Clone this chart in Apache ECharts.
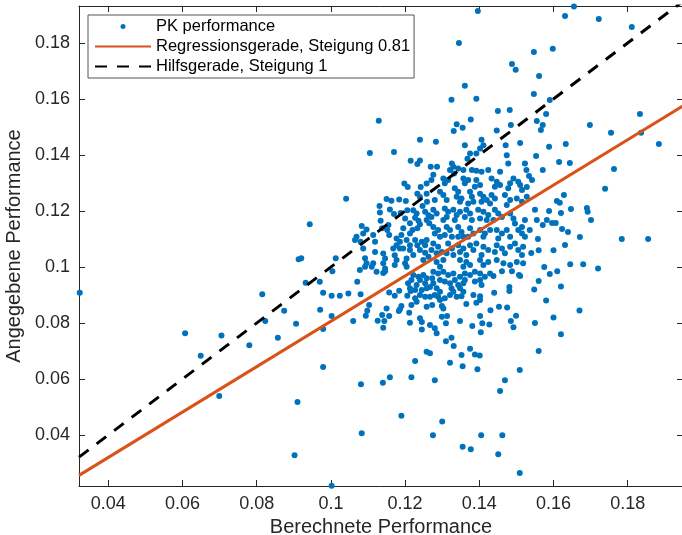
<!DOCTYPE html>
<html>
<head>
<meta charset="utf-8">
<title>PK performance</title>
<script src="https://cdn.jsdelivr.net/npm/echarts@6.0.0/dist/echarts.min.js"></script>
<style>
  html, body { margin: 0; padding: 0; background: #fff; }
  #chart { width: 682px; height: 535px; }
</style>
</head>
<body>
<div id="chart"></div>
<script>
// tick values shown on the axes
const xTicks = [0.04, 0.06, 0.08, 0.1, 0.12, 0.14, 0.16, 0.18];
const yTicks = [0.04, 0.06, 0.08, 0.1, 0.12, 0.14, 0.16, 0.18];
const xRange = [0.0321, 0.1949];
const yRange = [0.0218, 0.1932];

// [berechnet, angegeben]
const pkPerformance = [
  [0.0323,0.0908],[0.0607,0.0763],[0.0649,0.0683],[0.0699,0.0539],[0.0705,0.0755],[0.0780,0.0721],
  [0.0815,0.0903],[0.0823,0.0807],[0.0857,0.0747],[0.0874,0.0844],[0.0906,0.0797],[0.0910,0.0518],
  [0.0902,0.0328],[0.0913,0.1028],[0.0920,0.1031],[0.0932,0.0944],[0.0970,0.0947],[0.0979,0.0908],
  [0.0971,0.0847],[0.0979,0.0779],[0.0979,0.0643],[0.1002,0.0219],[0.1509,0.0264],
  [0.1227,0.0664],[0.1321,0.0658],[0.1355,0.0646],[0.1395,0.0635],[0.1509,0.0632],[0.1081,0.0581],
  [0.1140,0.0587],[0.1159,0.0606],[0.1217,0.0606],[0.1280,0.0596],[0.1469,0.0596],[0.1456,0.0557],
  [0.1190,0.0469],[0.1300,0.0448],[0.1083,0.0406],[0.1275,0.0399],[0.1405,0.0399],[0.1462,0.0399],
  [0.1355,0.0358],[0.1377,0.0349],[0.1451,0.0331],
  [0.1375,0.0708],[0.1352,0.0686],[0.1388,0.0688],[0.1401,0.0684],[0.1331,0.0718],[0.1325,0.0747],
  [0.1310,0.0735],[0.1267,0.0692],[0.1381,0.0789],[0.1404,0.0767],[0.1408,0.0799],[0.1427,0.0795],
  [0.1402,0.0825],[0.1348,0.0807],[0.1310,0.0799],[0.1299,0.0822],[0.1313,0.0825],[0.1280,0.0781],
  [0.1285,0.0763],[0.1267,0.0793],[0.1430,0.0846],[0.1453,0.0858],[0.1475,0.0855],[0.1499,0.0826],
  [0.1485,0.0807],[0.1492,0.0785],[0.1365,0.0868],[0.1392,0.0872],[0.1402,0.0882],[0.1384,0.0900],
  [0.1402,0.0896],[0.1440,0.0908],[0.1481,0.0929],[0.1481,0.0914],[0.1507,0.0971],[0.1299,0.0861],
  [0.1303,0.0852],[0.1273,0.0864],[0.1294,0.0882],[0.1307,0.0888],[0.1321,0.0900],[0.1330,0.0912],
  [0.1339,0.0894],[0.1352,0.0896],[0.1357,0.0912],[0.1285,0.0924],[0.1294,0.0912],[0.1280,0.0900],
  [0.1289,0.0894],[0.1267,0.0894],[0.1276,0.0983],[0.1289,0.0977],[0.1303,0.0983],[0.1316,0.0971],
  [0.1330,0.0977],[0.1348,0.0965],[0.1361,0.0977],[0.1375,0.0971],[0.1388,0.0983],[0.1402,0.0977],
  [0.1415,0.0965],[0.1429,0.0977],[0.1438,0.0968],[0.1461,0.0985],[0.1488,0.0985],[0.1510,0.0968],
  [0.1294,0.0954],[0.1307,0.0948],[0.1321,0.0942],[0.1334,0.0954],[0.1343,0.0936],[0.1357,0.0942],
  [0.1348,0.0924],[0.1325,0.0924],[0.1361,0.0954],[0.1388,0.0948],[0.1402,0.0954],[0.1406,0.0936],
  [0.1273,0.0960],[0.1276,0.0942],[0.1267,0.0929],
  [0.1004,0.0985],[0.1078,0.0989],[0.1123,0.0983],[0.1141,0.0979],[0.1146,0.0985],[0.1071,0.0947],
  [0.1002,0.0897],[0.1024,0.0897],[0.1047,0.0905],[0.1080,0.0903],[0.1157,0.0909],[0.1172,0.0897],
  [0.1184,0.0915],[0.1206,0.0897],[0.1215,0.0914],[0.1103,0.0864],[0.1098,0.0844],[0.1094,0.0826],
  [0.1060,0.0807],[0.1002,0.0825],[0.1126,0.0808],[0.1138,0.0829],[0.1150,0.0852],[0.1157,0.0825],
  [0.1144,0.0807],[0.1141,0.0783],[0.1186,0.0849],[0.1190,0.0861],[0.1183,0.0843],[0.1211,0.0837],
  [0.1213,0.0801],[0.1240,0.0817],[0.1245,0.0804],[0.1245,0.0777],[0.1217,0.0864],[0.1231,0.0876],
  [0.1227,0.0888],[0.1240,0.0900],[0.1254,0.0894],[0.1258,0.0858],[0.1208,0.0942],[0.1217,0.0954],
  [0.1231,0.0936],[0.1240,0.0954],[0.1254,0.0942],[0.1258,0.0924],[0.1245,0.0918],[0.1227,0.0918],
  [0.1222,0.0971],[0.1236,0.0965],[0.1249,0.0971],[0.1258,0.0960],[0.1213,0.0924],[0.1258,0.0697],
  [0.1240,0.1454],[0.1105,0.1407],[0.1170,0.1411],[0.1215,0.1379],[0.1233,0.1368],[0.1240,0.1380],
  [0.1269,0.1358],[0.1198,0.1298],[0.1207,0.1286],[0.1242,0.1286],[0.1258,0.1298],[0.1233,0.1262],
  [0.1240,0.1250],[0.1258,0.1262],[0.1259,0.1233],[0.1150,0.1243],[0.1163,0.1237],[0.1184,0.1241],
  [0.1202,0.1236],[0.1247,0.1218],[0.1041,0.1244],[0.1131,0.1218],[0.1132,0.1195],[0.1134,0.1165],
  [0.1159,0.1205],[0.1170,0.1189],[0.1188,0.1193],[0.1200,0.1173],[0.1206,0.1203],[0.1222,0.1203],
  [0.1231,0.1191],[0.1227,0.1176],[0.1236,0.1165],[0.1240,0.1153],[0.1233,0.1138],[0.1254,0.1197],
  [0.1263,0.1185],[0.1258,0.1168],[0.1265,0.1156],[0.1213,0.1156],[0.1220,0.1132],[0.1213,0.1120],
  [0.1195,0.1138],[0.1190,0.1114],[0.1155,0.1150],[0.1152,0.1132],[0.1157,0.1114],[0.1138,0.1138],
  [0.1083,0.1146],[0.1096,0.1134],[0.1087,0.1120],[0.1069,0.1108],[0.1065,0.1096],[0.1080,0.1090],
  [0.1114,0.1114],[0.1119,0.1090],[0.1177,0.1102],[0.1186,0.1090],[0.1177,0.1078],[0.1186,0.1066],
  [0.1204,0.1096],[0.1213,0.1078],[0.1227,0.1096],[0.1233,0.1078],[0.1245,0.1090],[0.1254,0.1078],
  [0.1258,0.1096],[0.1087,0.1066],[0.1119,0.1054],[0.1141,0.1048],[0.1146,0.1030],[0.1168,0.1066],
  [0.1172,0.1042],[0.1177,0.1025],[0.1195,0.1066],[0.1213,0.1061],[0.1222,0.1043],[0.1204,0.1030],
  [0.1240,0.1061],[0.1254,0.1051],[0.1263,0.1037],[0.1249,0.1025],[0.1013,0.1031],[0.1092,0.1031],
  [0.1096,0.1013],[0.1092,0.1001],[0.1114,0.1013],[0.1110,0.1001],[0.1141,0.1013],[0.1146,0.0995],
  [0.1172,0.1007],[0.1200,0.1013],[0.1204,0.1001],
  [0.1361,0.1647],[0.1325,0.1597],[0.1392,0.1601],[0.1129,0.1522],[0.1377,0.1527],[0.1339,0.1510],
  [0.1355,0.1497],[0.1331,0.1486],[0.0943,0.1153],[0.1447,0.1487],[0.1345,0.1800],
  [0.1396,0.1914],[0.1655,0.1930],[0.1631,0.1896],[0.1722,0.1886],[0.1811,0.1857],[0.1547,0.1768],
  [0.1598,0.1779],[0.1488,0.1725],[0.1498,0.1704],[0.1561,0.1682],[0.1547,0.1618],[0.1590,0.1596],
  [0.1450,0.1557],[0.1482,0.1561],[0.1580,0.1546],[0.1555,0.1521],[0.1571,0.1507],[0.1485,0.1507],
  [0.1566,0.1489],[0.1588,0.1429],[0.1633,0.1439],[0.1833,0.1546],[0.1698,0.1507],[0.1755,0.1479],
  [0.1836,0.1479],[0.1884,0.1439],[0.1553,0.1396],[0.1615,0.1375],[0.1644,0.1371],[0.1571,0.1346],
  [0.1763,0.1350],[0.1542,0.1311],[0.1534,0.1325],[0.1739,0.1279],[0.1628,0.1257],[0.1609,0.1236],
  [0.1617,0.1229],[0.1588,0.1200],[0.1620,0.1193],[0.1647,0.1207],[0.1690,0.1211],[0.1692,0.1197],
  [0.1701,0.1168],[0.1623,0.1136],[0.1639,0.1125],[0.1671,0.1107],[0.1631,0.1079],[0.1558,0.1100],
  [0.1784,0.1100],[0.1855,0.1100],[0.1582,0.1168],[0.1596,0.1157],[0.1606,0.1157],[0.1571,0.1150],
  [0.1555,0.1168],[0.1536,0.1132],[0.1550,0.1204],
  [0.1283,0.1447],[0.1361,0.1435],[0.1406,0.1454],[0.1411,0.1435],[0.1402,0.1423],[0.1392,0.1405],
  [0.1471,0.1435],[0.1510,0.1443],[0.1474,0.1399],[0.1375,0.1405],[0.1368,0.1387],[0.1286,0.1358],
  [0.1326,0.1370],[0.1330,0.1358],[0.1321,0.1346],[0.1332,0.1334],[0.1343,0.1352],[0.1357,0.1346],
  [0.1380,0.1346],[0.1392,0.1344],[0.1406,0.1340],[0.1424,0.1346],[0.1456,0.1340],[0.1478,0.1370],
  [0.1523,0.1370],[0.1527,0.1346],[0.1492,0.1316],[0.1505,0.1304],[0.1276,0.1329],[0.1271,0.1311],
  [0.1303,0.1316],[0.1316,0.1311],[0.1307,0.1299],[0.1357,0.1316],[0.1370,0.1311],[0.1361,0.1299],
  [0.1392,0.1311],[0.1402,0.1293],[0.1388,0.1287],[0.1433,0.1316],[0.1447,0.1304],[0.1442,0.1287],
  [0.1456,0.1293],[0.1483,0.1299],[0.1478,0.1281],[0.1510,0.1293],[0.1515,0.1275],[0.1528,0.1286],
  [0.1280,0.1239],[0.1294,0.1269],[0.1303,0.1257],[0.1312,0.1239],[0.1334,0.1281],[0.1343,0.1269],
  [0.1339,0.1251],[0.1352,0.1245],[0.1348,0.1233],[0.1375,0.1269],[0.1380,0.1251],[0.1384,0.1233],
  [0.1370,0.1227],[0.1402,0.1262],[0.1411,0.1251],[0.1406,0.1233],[0.1420,0.1239],[0.1433,0.1257],
  [0.1442,0.1245],[0.1429,0.1227],[0.1469,0.1257],[0.1483,0.1239],[0.1474,0.1221],[0.1501,0.1245],
  [0.1515,0.1233],[0.1528,0.1251],[0.1276,0.1204],[0.1285,0.1191],[0.1271,0.1179],[0.1307,0.1209],
  [0.1316,0.1197],[0.1312,0.1179],[0.1303,0.1168],[0.1330,0.1204],[0.1339,0.1186],[0.1348,0.1197],
  [0.1334,0.1168],[0.1365,0.1204],[0.1375,0.1191],[0.1361,0.1179],[0.1380,0.1168],[0.1397,0.1204],
  [0.1411,0.1197],[0.1424,0.1186],[0.1402,0.1173],[0.1420,0.1168],[0.1442,0.1204],[0.1451,0.1191],
  [0.1461,0.1179],[0.1438,0.1168],[0.1483,0.1191],[0.1492,0.1173],[0.1496,0.1155],[0.1515,0.1143],
  [0.1523,0.1168],[0.1276,0.1143],[0.1289,0.1132],[0.1280,0.1120],[0.1294,0.1108],[0.1312,0.1143],
  [0.1321,0.1132],[0.1307,0.1114],[0.1326,0.1108],[0.1343,0.1143],[0.1352,0.1125],[0.1343,0.1108],
  [0.1357,0.1108],[0.1375,0.1138],[0.1384,0.1120],[0.1370,0.1108],[0.1402,0.1132],[0.1415,0.1120],
  [0.1411,0.1108],[0.1429,0.1132],[0.1447,0.1132],[0.1461,0.1120],[0.1451,0.1102],[0.1474,0.1132],
  [0.1483,0.1108],[0.1505,0.1132],[0.1515,0.1120],[0.1523,0.1108],[0.1276,0.1084],[0.1289,0.1072],
  [0.1271,0.1061],[0.1285,0.1049],[0.1299,0.1054],[0.1316,0.1084],[0.1326,0.1066],[0.1312,0.1049],
  [0.1330,0.1043],[0.1343,0.1078],[0.1357,0.1066],[0.1348,0.1054],[0.1375,0.1078],[0.1392,0.1084],
  [0.1384,0.1061],[0.1365,0.1043],[0.1411,0.1072],[0.1424,0.1061],[0.1406,0.1043],[0.1447,0.1078],
  [0.1461,0.1066],[0.1442,0.1054],[0.1469,0.1049],[0.1483,0.1072],[0.1496,0.1084],[0.1505,0.1061],
  [0.1518,0.1072],[0.1515,0.1043],[0.1285,0.1018],[0.1303,0.1025],[0.1294,0.1001],[0.1348,0.1025],
  [0.1365,0.1018],[0.1357,0.1001],[0.1375,0.1007],[0.1402,0.1025],[0.1411,0.1007],[0.1424,0.1018],
  [0.1447,0.1025],[0.1465,0.1013],[0.1483,0.1007],[0.1501,0.1018],[0.1518,0.1013],
  [0.1575,0.1000],[0.1590,0.0975],[0.1560,0.0950],[0.1610,0.0985],[0.1620,0.0930],[0.1548,0.0920],
  [0.1580,0.0880],[0.1645,0.1010],[0.1680,0.1010],[0.1720,0.0995],[0.1670,0.0845],[0.1600,0.0820],
  [0.1550,0.0800],[0.1620,0.0760],[0.1560,0.0700],[0.1540,0.1050],[0.1600,0.1060],[0.1560,0.1060]
];

// fitted line (slope 0.81) and the slope-1 helper line, end points
const regressionLine = [[0.0321, 0.0256], [0.1949, 0.1575]];
const referenceLine = [[0.0321, 0.0321], [0.1949, 0.1949]];

const font = '"Liberation Sans", Arial, Helvetica, sans-serif';
const axisColor = '#262626';

function xAxisDef(position, withLabels) {
  return {
    type: 'value',
    position: position,
    min: xRange[0],
    max: xRange[1],
    name: withLabels ? 'Berechnete Performance' : '',
    nameLocation: 'middle',
    nameGap: 27,
    nameTextStyle: { fontFamily: font, fontSize: 20, color: axisColor },
    axisLine: { show: true, onZero: false, lineStyle: { color: axisColor, width: 1 } },
    axisTick: { show: true, inside: true, length: 6, customValues: xTicks, lineStyle: { color: axisColor } },
    axisLabel: { show: withLabels, customValues: xTicks, margin: 9, fontFamily: font, fontSize: 18, color: axisColor },
    splitLine: { show: false }
  };
}

function yAxisDef(position, withLabels) {
  return {
    type: 'value',
    position: position,
    min: yRange[0],
    max: yRange[1],
    name: withLabels ? 'Angegebene Performance' : '',
    nameLocation: 'middle',
    nameRotate: 90,
    nameGap: 54,
    nameTextStyle: { fontFamily: font, fontSize: 20, color: axisColor },
    axisLine: { show: true, onZero: false, lineStyle: { color: axisColor, width: 1 } },
    axisTick: { show: true, inside: true, length: 6, customValues: yTicks, lineStyle: { color: axisColor } },
    axisLabel: { show: withLabels, customValues: yTicks, margin: 9, fontFamily: font, fontSize: 18, color: axisColor },
    splitLine: { show: false }
  };
}

const chart = echarts.init(document.getElementById('chart'), null, { renderer: 'canvas' });
chart.setOption({
  animation: false,
  backgroundColor: '#fff',
  grid: { left: 79, top: 6, width: 604, height: 480, outerBoundsMode: 'none', containLabel: false },
  xAxis: [xAxisDef('bottom', true), xAxisDef('top', false)],
  yAxis: [yAxisDef('left', true), yAxisDef('right', false)],
  legend: {
    orient: 'vertical',
    left: 88,
    top: 15,
    padding: [3, 4, 3, 6],
    itemGap: 3,
    itemWidth: 56,
    itemHeight: 5,
    selectedMode: false,
    backgroundColor: '#fff',
    borderColor: '#555',
    borderWidth: 1,
    textStyle: { fontFamily: font, fontSize: 16.5, color: '#000' },
    data: [
      { name: 'PK performance' },
      // line entries: hide the marker that ECharts adds to line icons
      { name: 'Regressionsgerade, Steigung 0.81', itemStyle: { opacity: 0 } },
      { name: 'Hilfsgerade, Steigung 1', itemStyle: { opacity: 0 } }
    ]
  },
  series: [
    {
      name: 'PK performance',
      type: 'scatter',
      data: pkPerformance,
      symbol: 'circle',
      symbolSize: 6,
      itemStyle: { color: '#0072BD', opacity: 1 },
      z: 2
    },
    {
      name: 'Regressionsgerade, Steigung 0.81',
      type: 'line',
      data: regressionLine,
      symbol: 'none',
      lineStyle: { color: '#D95319', width: 3 },
      itemStyle: { color: '#D95319' },
      z: 3
    },
    {
      name: 'Hilfsgerade, Steigung 1',
      type: 'line',
      data: referenceLine,
      symbol: 'none',
      lineStyle: { color: '#000', width: 3, type: [12, 10] },
      itemStyle: { color: '#000' },
      z: 4
    }
  ]
});
</script>
</body>
</html>
